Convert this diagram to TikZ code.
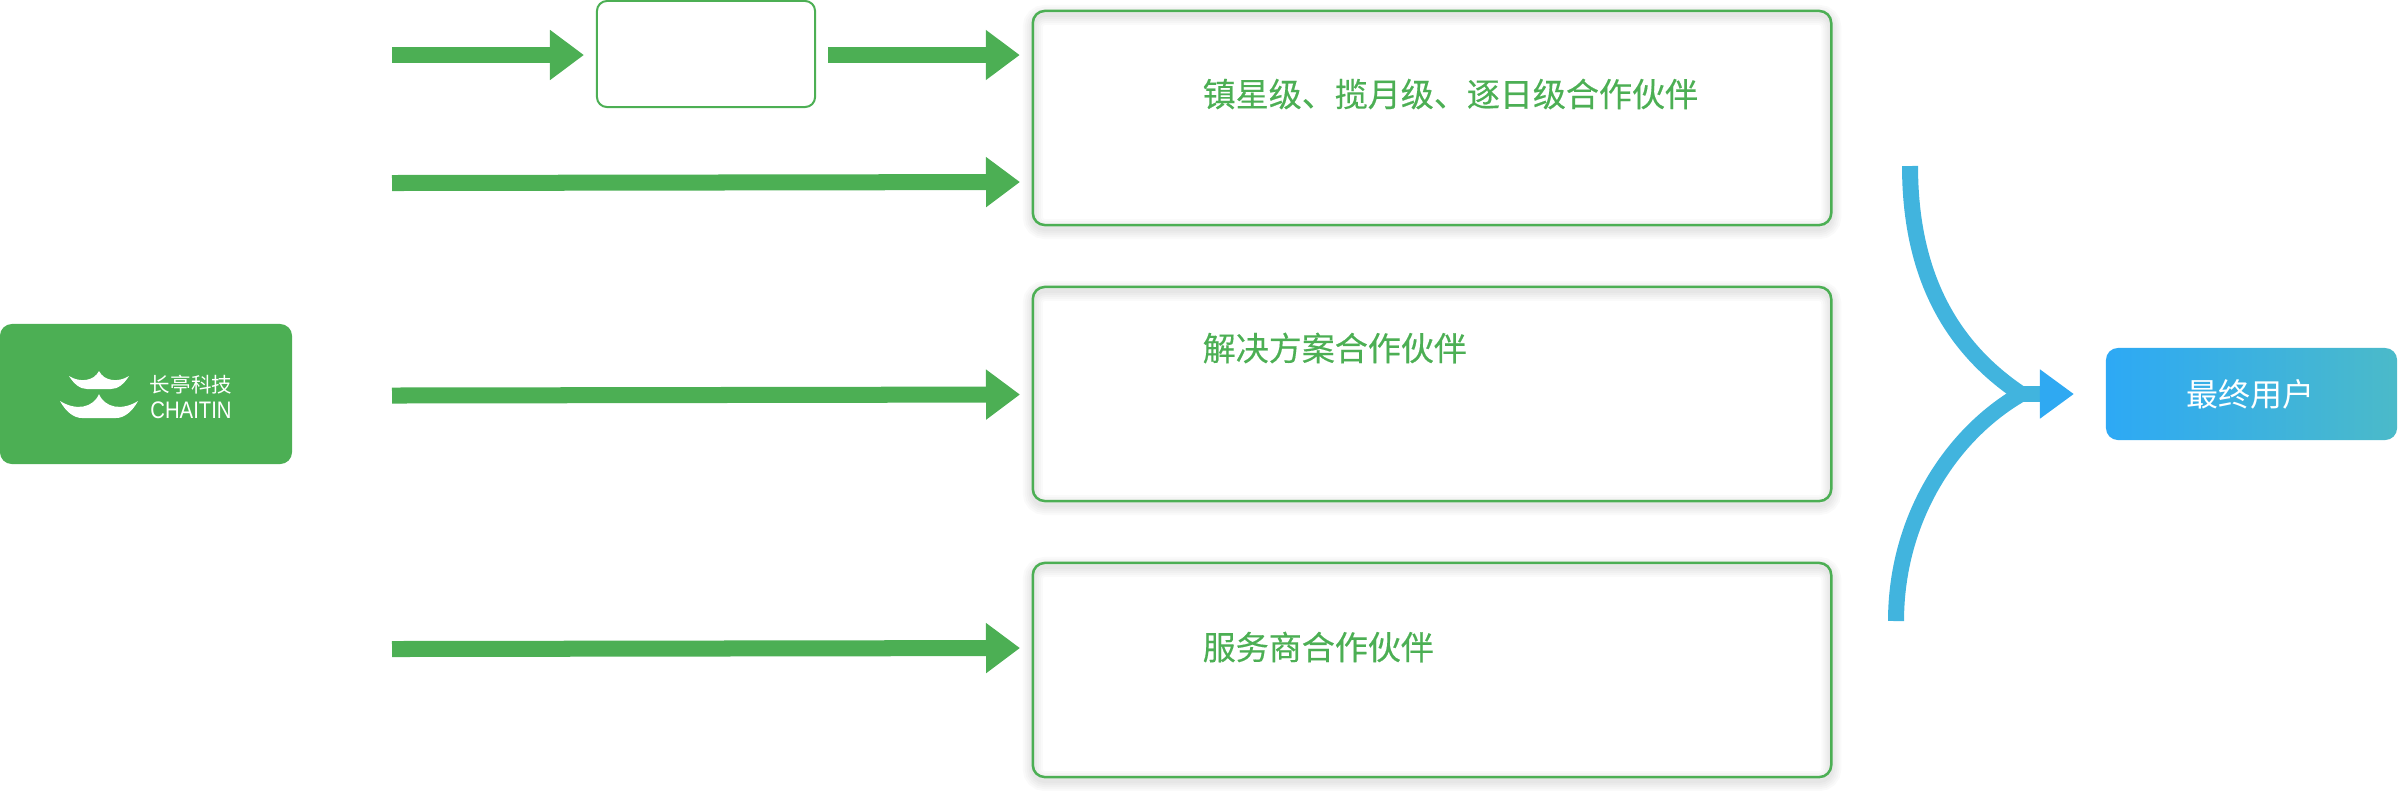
\documentclass[tikz,border=0pt]{standalone}
\usepackage{fontspec}
\setmainfont{Liberation Sans}
\newfontfamily\cjk{Noto Sans CJK SC}
\newfontfamily\cjkbold[FakeBold=0.4]{Noto Sans CJK SC}
\usepackage{tikz}
\usetikzlibrary{calc,arrows.meta,backgrounds}
\definecolor{ctgreen}{HTML}{4CAF54}
\definecolor{curveblue}{HTML}{41B4DE}
\definecolor{headblue}{HTML}{2FA9F2}
\definecolor{userleft}{HTML}{2DA9F5}
\definecolor{userright}{HTML}{4BBAC9}
\begin{document}
\begin{tikzpicture}[x=0.01cm,y=-0.01cm,
    partnerbox/.style={draw=ctgreen,line width=.025cm,rounded corners=.12cm,minimum width=7.98cm,outer sep=0,inner sep=0},
    partnerlabel/.style={text=ctgreen,anchor=west,inner sep=0,font=\fontsize{9.39}{11}\cjkbold},
    flowarrow/.style={draw=ctgreen,line width=.16cm,shorten >=.13cm,-{Triangle[length=.34cm,width=.48cm]}},
    usercurve/.style={draw=curveblue,line width=.16cm},
    softline/.style={draw=black,opacity=.02,rounded corners=.12cm}]
  \useasboundingbox (0,0) rectangle (2398,790);
  \node[fill=ctgreen,rounded corners=.12cm,minimum width=2.92cm,minimum height=1.4cm,outer sep=0,inner sep=0] (logo) at (146,394) {};
  \fill[white] (99,371) .. controls (94,381) and (80,383) .. (69,376) .. controls (74,384) and (80,389) .. (87,389) -- (111,389) .. controls (118,389) and (124,384) .. (129,376) .. controls (118,383) and (104,381) .. (99,371) -- cycle;
  \fill[white] (99,394) .. controls (93,408) and (76,411) .. (60,401) .. controls (66,412) and (74,418) .. (82,418) -- (116,418) .. controls (124,418) and (132,412) .. (138,401) .. controls (122,411) and (105,408) .. (99,394) -- cycle;
  \node[text=white,inner sep=0,font=\fontsize{5.83}{7}\cjk] (logozh) at (191,385) {长亭科技};
  \node[text=white,inner sep=0,xscale=.85,transform shape,font=\fontsize{6.8}{8}\selectfont] (logoen) at (191,410) {CHAITIN};
  \node[draw=ctgreen,line width=.02cm,rounded corners=.1cm,minimum width=2.18cm,minimum height=1.06cm,outer sep=0,inner sep=0] (relay) at (706,54) {};
  \node[partnerbox,minimum height=2.14cm] (boxa) at (1432,118) {};
  \node[partnerbox,minimum height=2.14cm] (boxb) at (1432,394) {};
  \node[partnerbox,minimum height=2.14cm] (boxc) at (1432,670) {};
  \node[partnerlabel] (labela) at (1202,94) {镇星级、揽月级、逐日级合作伙伴};
  \node[partnerlabel] (labelb) at (1202,348) {解决方案合作伙伴};
  \node[partnerlabel] (labelc) at (1202,647) {服务商合作伙伴};
  \node[left color=userleft,right color=userright,rounded corners=.12cm,minimum width=2.91cm,minimum height=.92cm,outer sep=0,inner sep=0] (user) at (2251.5,394) {};
  \node[text=white,inner sep=0,font=\fontsize{9.1}{11}\cjk] (userlabel) at (2250,394) {最终用户};
  \begin{scope}[on background layer]
    \foreach \b in {boxa,boxb,boxc}
      \foreach \w in {.2,.16,.12,.08,.04}
        \draw[softline,line width=\w cm] ([yshift=-.04cm]\b.north west) rectangle ([yshift=-.04cm]\b.south east);
  \end{scope}
  \coordinate (ina) at (392,55);
  \coordinate (outa) at (828,55);
  \coordinate (inb) at (392,183);
  \coordinate (inc) at (392,395.5);
  \coordinate (ind) at (392,649);
  \coordinate (endb) at (1033,182);
  \coordinate (endc) at (1033,394.5);
  \coordinate (endd) at (1033,648);
  \draw[flowarrow] (ina) -- (ina -| relay.west);
  \draw[flowarrow] (outa) -- (outa -| boxa.west);
  \draw[flowarrow] (inb) -- (endb);
  \draw[flowarrow] (inc) -- (endc);
  \draw[flowarrow] (ind) -- (endd);
  \coordinate (curvetop) at (1910,166);
  \coordinate (curvelow) at (1896,621);
  \coordinate (join) at (2021,394);
  \draw[usercurve] (curvetop) .. controls (1910,280) and (1955,350) .. (join);
  \draw[usercurve] (curvelow) .. controls (1896,520) and (1950,435) .. (join);
  \draw[usercurve,shorten >=.32cm,-{Triangle[length=.34cm,width=.47cm,color=headblue]}] (join) -- (user.west);
\end{tikzpicture}
\end{document}
